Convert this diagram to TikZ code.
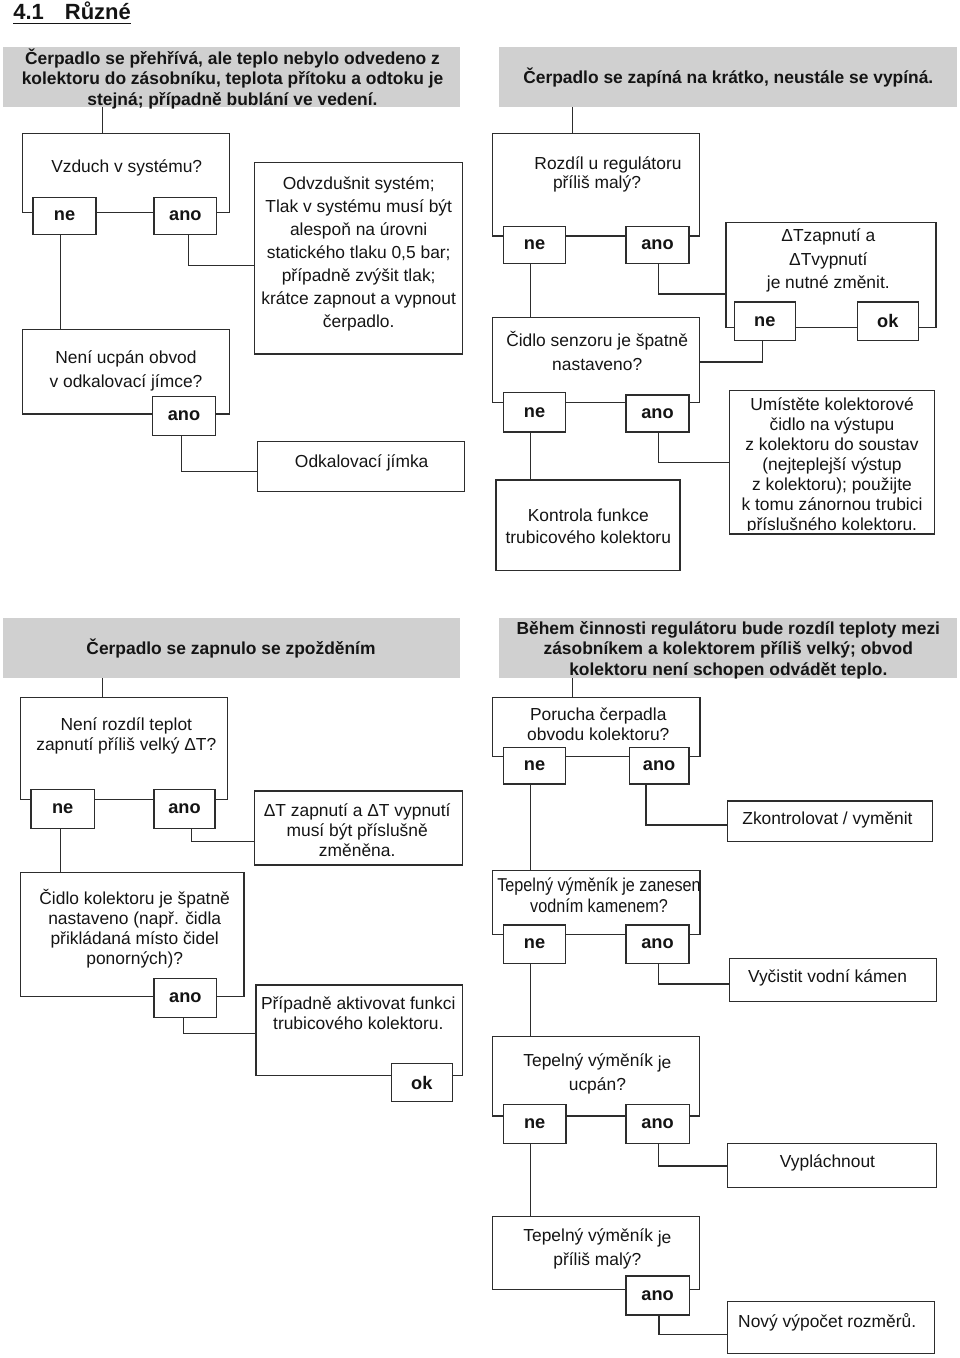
\documentclass[tikz,border=0pt]{standalone}
\usepackage{fontspec}
\setmainfont{Liberation Sans}
\newfontfamily\narrowfont[FakeStretch=0.87]{Liberation Sans}
\usetikzlibrary{fit,calc}
\definecolor{lncol}{RGB}{45,45,45}
\definecolor{tx}{RGB}{20,20,20}
\definecolor{hdgray}{RGB}{208,208,208}
\begin{document}
\begin{tikzpicture}[x=1pt,y=-1pt,
  bx/.style={draw=lncol, line width=1.3pt, inner sep=0pt, outer sep=0pt, rectangle},
  hd/.style={fill=hdgray, inner sep=0pt, outer sep=0pt, rectangle},
  ans/.style={bx, fill=white},
  anl/.style={inner sep=0pt, outer sep=0pt, text=tx, font=\fontsize{18.2}{20}\selectfont\bfseries},
  txt/.style={inner sep=0pt, outer sep=0pt, align=center, text=tx, yshift=-2pt},
  tsp/.style={txt, font=\fontsize{17.4}{#1}\selectfont},
  htx/.style={txt, font=\fontsize{17.4}{#1}\selectfont\bfseries},
  conn/.style={draw=lncol, line width=1.3pt},
]
\useasboundingbox (0,0) rectangle (960,1358);

% title
\node[inner sep=0pt, outer sep=0pt, anchor=base west, text=tx,
      font=\fontsize{22}{26}\selectfont\bfseries] (title) at (13.3,19) {4.1\hspace{21pt}Různé};
\draw[line width=1.5pt, draw=tx] ([yshift=-4.3pt]title.base west) -- ([yshift=-4.3pt]title.base east);

% headers
\node[hd, fit={(2.7,47.3) (460,107.3)}] (h1) {};
\node[hd, fit={(499.3,47.3) (957.3,107.3)}] (h2) {};
\node[hd, fit={(2.7,618.3) (460,678.3)}] (h3) {};
\node[hd, fit={(499.3,618.3) (957.3,678.3)}] (h4) {};
\node[htx=20.8] (h1t) at (232.5,78.2) {\strut Čerpadlo se přehřívá, ale teplo nebylo odvedeno z\\kolektoru do zásobníku, teplota přítoku a odtoku je\\stejná; případně bublání ve vedení.\strut};
\node[htx=20.8] (h2t) at (728.3,77.3) {\strut Čerpadlo se zapíná na krátko, neustále se vypíná.\strut};
\node[htx=20.8] (h3t) at (231,648.3) {\strut Čerpadlo se zapnulo se zpožděním\strut};
\node[htx=20.3] (h4t) at (728.3,648.7) {\strut Během činnosti regulátoru bude rozdíl teploty mezi\\zásobníkem a kolektorem příliš velký; obvod\\kolektoru není schopen odvádět teplo.\strut};

% ---------- section 1 ----------
\node[bx, fit={(22.7,133.3) (229.3,212.7)}] (q1) {};
\node[bx, fit={(254.3,162.7) (462.7,354)}] (a1) {};
\node[bx, fit={(22.7,329.3) (229.3,414)}] (q2) {};
\node[bx, fit={(257.3,441.7) (464.3,491.7)}] (a2) {};
\node[ans, fit={(33,197.3) (96,234.3)}] (q1ne) {};
\node[ans, fit={(154,197.3) (216.7,234.3)}] (q1ano) {};
\node[ans, fit={(152.7,396.7) (215.3,435.3)}] (q2ano) {};
\node[anl] (q1neL) at (q1ne.center) {ne};
\node[anl] (q1anoL) at (q1ano.center) {ano};
\node[anl] (q2anoL) at (q2ano.center) {ano};
\node[tsp=23.1] (q1t) at (126.7,165.7) {\strut Vzduch v systému?\strut};
\node[tsp=23.1] (a1t) at (358.7,252) {\strut Odvzdušnit systém;\\Tlak v systému musí být\\alespoň na úrovni\\statického tlaku 0,5 bar;\\případně zvýšit tlak;\\krátce zapnout a vypnout\\čerpadlo.\strut};
\node[tsp=23.7] (q2t) at (126,368.8) {\strut Není ucpán obvod\\v odkalovací jímce?\strut};
\node[tsp=20] (a2t) at (361.7,461.7) {\strut Odkalovací jímka\strut};

% ---------- section 2 ----------
\node[bx, fit={(492.7,133.3) (699.3,236)}] (q3) {};
\node[bx, fit={(726,222.7) (936,327.3)}] (a3) {};
\node[bx, fit={(492.7,317.7) (699.3,402.7)}] (q4) {};
\node[bx, fit={(729.3,390.7) (934.7,534)}] (a4) {};
\node[bx, fit={(496,480) (680,570.7)}] (q5) {};
\node[ans, fit={(503.3,226.7) (565.7,263.3)}] (q3ne) {};
\node[ans, fit={(626,226.7) (689,263.3)}] (q3ano) {};
\node[ans, fit={(734.3,302) (795.3,340.7)}] (a3ne) {};
\node[ans, fit={(857.3,302) (918.3,340.7)}] (a3ok) {};
\node[ans, fit={(503.3,392.7) (565.7,432)}] (q4ne) {};
\node[ans, fit={(626,395) (689,432)}] (q4ano) {};
\node[anl] (q3neL) at (q3ne.center) {ne};
\node[anl] (q3anoL) at (q3ano.center) {ano};
\node[anl] (a3neL) at (a3ne.center) {ne};
\node[anl] (a3okL) at (a3ok.center) {ok};
\node[anl] (q4neL) at (q4ne.center) {ne};
\node[anl] (q4anoL) at (q4ano.center) {ano};
\node[tsp=19.4] (q3t) at (597,173) {\strut\hspace*{22pt}Rozdíl u regulátoru\\příliš malý?\strut};
\node[tsp=23.6] (a3t) at (828.3,258.6) {\strut ΔTzapnutí a\\ΔTvypnutí\\je nutné změnit.\strut};
\node[tsp=23.3] (q4t) at (597.2,351.7) {\strut Čidlo senzoru je špatně\\nastaveno?\strut};
\begin{scope}
\clip (a4.north west) rectangle ([yshift=3.5pt]a4.south east);
\node[tsp=20] (a4t) at (832,464) {\strut Umístěte kolektorové\\čidlo na výstupu\\z kolektoru do soustav\\(nejteplejší výstup\\z kolektoru); použijte\\k tomu zánornou trubici\\příslušného kolektoru.\strut};
\end{scope}
\node[tsp=22.3] (q5t) at (588.3,526.2) {\strut Kontrola funkce\\trubicového kolektoru\strut};

% ---------- section 3 ----------
\node[bx, fit={(20.7,697.3) (227.3,799.3)}] (q6) {};
\node[bx, fit={(254.3,791) (462.7,865)}] (a6) {};
\node[bx, fit={(20.7,872.7) (244,996.7)}] (q7) {};
\node[bx, fit={(256,985) (462.7,1075.7)}] (a7) {};
\node[ans, fit={(31,789.3) (94.3,828.7)}] (q6ne) {};
\node[ans, fit={(154,789.3) (215,828.7)}] (q6ano) {};
\node[ans, fit={(154,978.3) (216.7,1017.3)}] (q7ano) {};
\node[ans, fit={(391.4,1063.5) (452.3,1101.5)}] (a7ok) {};
\node[anl] (q6neL) at (q6ne.center) {ne};
\node[anl] (q6anoL) at (q6ano.center) {ano};
\node[anl] (q7anoL) at (q7ano.center) {ano};
\node[anl] (a7okL) at (a7ok.center) {ok};
\node[tsp=20] (q6t) at (126.3,734) {\strut Není rozdíl teplot\\zapnutí příliš velký ΔT?\strut};
\node[tsp=20] (a6t) at (357.2,830.7) {\strut ΔT zapnutí a ΔT vypnutí\\musí být příslušně\\změněna.\strut};
\node[tsp=20.2] (q7t) at (134.7,928) {\strut Čidlo kolektoru je špatně\\nastaveno (např. čidla\\přikládaná místo čidel\\ponorných)?\strut};
\node[tsp=20] (a7t) at (358.3,1013.3) {\strut Případně aktivovat funkci\\trubicového kolektoru.\strut};

% ---------- section 4 ----------
\node[bx, fit={(492.7,697.3) (700,756.7)}] (q8) {};
\node[bx, fit={(727.3,801) (932.7,841.7)}] (a8) {};
\node[bx, fit={(492.7,870.7) (700,934.3)}] (q9) {};
\node[bx, fit={(729.3,958.3) (936.7,1001.7)}] (a9) {};
\node[bx, fit={(492.7,1036.7) (699.3,1116)}] (q10) {};
\node[bx, fit={(727.3,1143.3) (936.7,1187.7)}] (a10) {};
\node[bx, fit={(492.7,1216.7) (699.3,1289.3)}] (q11) {};
\node[bx, fit={(727.3,1301.7) (934.3,1353.3)}] (a11) {};
\node[ans, fit={(503.3,747.3) (565.7,784)}] (q8ne) {};
\node[ans, fit={(629.3,747.3) (689,784)}] (q8ano) {};
\node[ans, fit={(503.3,925) (565.7,963.3)}] (q9ne) {};
\node[ans, fit={(626,925) (689,963.3)}] (q9ano) {};
\node[ans, fit={(503.3,1104.3) (566,1143.3)}] (q10ne) {};
\node[ans, fit={(626,1104.3) (689.3,1143.3)}] (q10ano) {};
\node[ans, fit={(626,1276) (689.3,1315)}] (q11ano) {};
\node[anl] (q8neL) at (q8ne.center) {ne};
\node[anl] (q8anoL) at (q8ano.center) {ano};
\node[anl] (q9neL) at (q9ne.center) {ne};
\node[anl] (q9anoL) at (q9ano.center) {ano};
\node[anl] (q10neL) at (q10ne.center) {ne};
\node[anl] (q10anoL) at (q10ano.center) {ano};
\node[anl] (q11anoL) at (q11ano.center) {ano};
\node[tsp=20] (q8t) at (598.3,724) {\strut Porucha čerpadla\\obvodu kolektoru?\strut};
\node[tsp=20] (a8t) at (827.5,818.3) {\strut Zkontrolovat / vyměnit\strut};
\node[txt, font=\narrowfont\fontsize{18.6}{21}\selectfont] (q9t) at (599,895.5) {\strut Tepelný výměník je zanesen\\vodním kamenem?\strut};
\node[tsp=20] (a9t) at (827.5,976.7) {\strut Vyčistit vodní kámen\strut};
\node[tsp=23.3] (q10t) at (597.4,1071.7) {\strut Tepelný výměník \raisebox{-1.5pt}{je}\\ucpán?\strut};
\node[tsp=20] (a10t) at (827.5,1161) {\strut Vypláchnout\strut};
\node[tsp=23.3] (q11t) at (597.4,1246.7) {\strut Tepelný výměník \raisebox{-1.5pt}{je}\\příliš malý?\strut};
\node[tsp=20] (a11t) at (827.2,1321) {\strut Nový výpočet rozměrů.\strut};

% ---------- connectors ----------
\coordinate (colA) at (102.7,0);
\coordinate (colB) at (572.7,0);
\coordinate (colL) at (60.3,0);
\coordinate (colR) at (530.3,0);

\draw[conn] (h1.south -| colA) -- (q1.north -| colA);
\draw[conn] (q1ne.south -| colL) -- (q2.north -| colL);
\draw[conn] ([xshift=3pt]q1ano.south) |- ([yshift=-7pt]a1.west);
\draw[conn] ([xshift=-2.3pt]q2ano.south) |- ([yshift=-5pt]a2.west);

\draw[conn] (h2.south -| colB) -- (q3.north -| colB);
\draw[conn] (q3ne.south -| colR) -- (q4.north -| colR);
\draw[conn] ([xshift=1.2pt]q3ano.south) |- ([yshift=-19pt]a3.west);
\draw[conn] ([xshift=-2.5pt]a3ne.south) |- ([yshift=-1.8pt]q4.east);
\draw[conn] (q4ne.south -| colR) -- (q5.north -| colR);
\draw[conn] ([xshift=1.2pt]q4ano.south) |- (a4.west);

\draw[conn] (h3.south -| colA) -- (q6.north -| colA);
\draw[conn] (q6ne.south -| colL) -- (q7.north -| colL);
\draw[conn] ([xshift=7.2pt]q6ano.south) |- ([yshift=-13.7pt]a6.west);
\draw[conn] ([xshift=-2pt]q7ano.south) |- ([yshift=-3pt]a7.west);

\draw[conn] (h4.south -| colB) -- (q8.north -| colB);
\draw[conn] (q8ne.south -| colR) -- (q9.north -| colR);
\draw[conn] ([xshift=-13.2pt]q8ano.south) |- ([yshift=-3.6pt]a8.west);
\draw[conn] (q9ne.south -| colR) -- (q10.north -| colR);
\draw[conn] ([xshift=1.2pt]q9ano.south) |- ([yshift=-4pt]a9.west);
\draw[conn] (q10ne.south -| colR) -- (q11.north -| colR);
\draw[conn] ([xshift=0.6pt]q10ano.south) |- ([yshift=-0.5pt]a10.west);
\draw[conn] ([xshift=1.4pt]q11ano.south) |- ([yshift=-6.8pt]a11.west);
\end{tikzpicture}
\end{document}
